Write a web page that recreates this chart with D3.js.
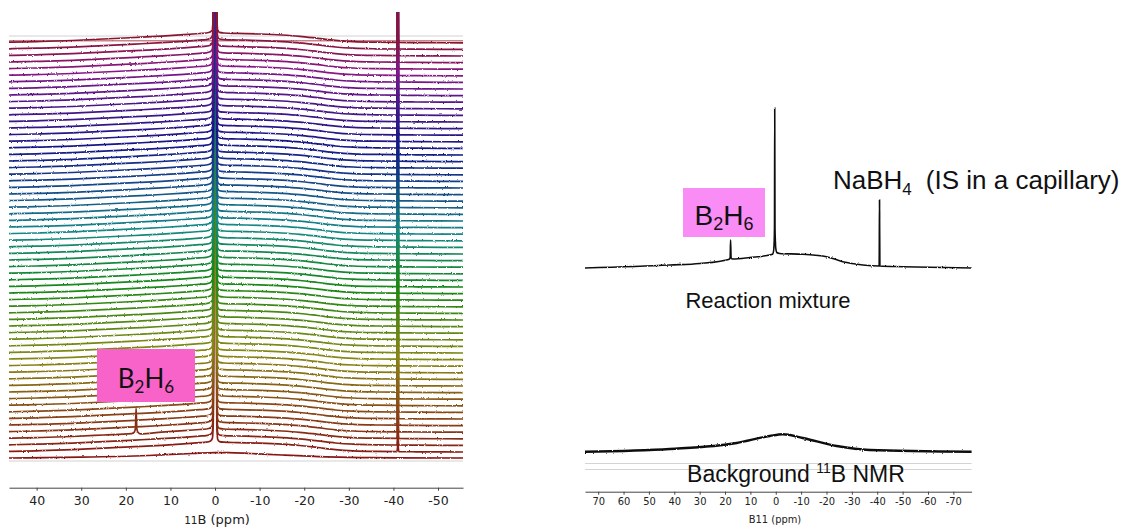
<!DOCTYPE html>
<html>
<head>
<meta charset="utf-8">
<script src="https://cdn.jsdelivr.net/npm/d3@7"></script>
<style>
  html, body { margin: 0; padding: 0; background: #fff; }
  svg { display: block; }
</style>
</head>
<body>
<svg id="chart" width="1123" height="529"></svg>
<script>
// ---------- stacked 11B spectra recorded over time ----------
const stackCount = 64;                 // spectra in the stack (first = bottom)
// broad glass/probe background shared by the stacked spectra (ppm, intensity)
const stackPpm  = [46.2, 40, 32, 25, 18, 12, 7, 3.5, -5, -10, -15, -19, -23, -27, -31, -36, -45, -55.6];
const stackBase = [0, 0.6, 1.7, 3.2, 4.7, 6.1, 7.5, 8.7, 8.8, 8.2, 7.2, 5.9, 3.9, 1.8, 0.6, 0, -0.4, -0.6];
// first spectrum: background only, no sharp lines
const firstPpm  = [46.2, 30, 15, 5, 0, -3, -8, -15, -25, -35, -55.6];
const firstBase = [0, 0.8, 2.5, 4.5, 5.3, 5.3, 4.5, 3.0, 1.2, 0.3, 0];
// sharp line near 0 ppm
const mainLinePpm = [2, 1, 0.6, 0.4, 0.3, -0.3, -0.4, -0.6, -1, -2];
const mainLineVal = [9.2, 10.5, 13, 30, 700, 700, 28, 12, 9.8, 9.2];
// NaBH4 internal standard (capillary)
const naLinePpm = [-40.75, -40.92, -41, -41.08, -41.25];
const naLineVal = [-0.2, 4, 700, 4, -0.2];
// B2H6 signal, seen in one early spectrum
const b2h6Trace = 3;
const b2h6Ppm = [18.7, 18.1, 17.85, 17.7, 17.55, 17.3, 16.7];
const b2h6Val = [4.6, 6, 10, 30, 10, 6, 4.4];
// trace colours: hue along the stack
const hueIdx = [0, 9, 13, 18, 24, 30, 34, 39, 44, 48, 53, 57, 60, 63];
const hueDeg = [0, 35, 52, 75, 110, 150, 180, 205, 228, 245, 268, 290, 318, 345];
const leftTicks = [40, 30, 20, 10, 0, -10, -20, -30, -40, -50];

// ---------- single spectra: reaction mixture and background ----------
const rxnPpm = [75.2, 41.7, 29.9, 18.6, 18.0, 17.8, 17.6, 17.0, 10.2, 2.4, 1.2, 0.8, 0.5, 0.4, 0.3, 0, -0.4, -1.5,
                -10.6, -20, -26.4, -34.3, -40.75, -40.9, -41.05, -50, -77.2];
const rxnVal = [0, 3, 4.5, 8.6, 10, 28, 10, 9, 10.5, 13, 14, 18, 40, 160, 40, 20, 15.5, 14.5,
                13.7, 11.3, 6.3, 3, 2, 68, 2, 1.3, 0];
const bgPpm = [75.2, 41.7, 15.4, 2.4, -2.8, -10.6, -24, -37, -77.2];
const bgVal = [0, 2.7, 8.7, 15.7, 17.4, 13.7, 5.7, 1.7, 0];
const rightTicks = [70, 60, 50, 40, 30, 20, 10, 0, -10, -20, -30, -40, -50, -60, -70];

const zip = (a, b) => a.map((v, i) => [v, b[i]]);

const svg = d3.select('#chart');
const defs = svg.append('defs');

// vertical-only jitter so the traces read as noisy acquisitions
const grain = defs.append('filter').attr('id', 'grain')
  .attr('x', '-1%').attr('y', '-10%').attr('width', '102%').attr('height', '120%');
grain.append('feTurbulence').attr('type', 'fractalNoise').attr('baseFrequency', '0.8 0.6')
  .attr('numOctaves', 2).attr('seed', 4).attr('result', 'n');
grain.append('feColorMatrix').attr('in', 'n').attr('type', 'matrix')
  .attr('values', '0 0 0 0 0.5  0 1 0 0 0  0 0 1 0 0  0 0 0 0 1').attr('result', 'm');
grain.append('feDisplacementMap').attr('in', 'SourceGraphic').attr('in2', 'm')
  .attr('scale', 2.3).attr('xChannelSelector', 'R').attr('yChannelSelector', 'G');

defs.append('clipPath').attr('id', 'leftClip').append('rect')
  .attr('x', 9).attr('y', 12).attr('width', 454).attr('height', 460);

// ================= left: stacked plot =================
const xL = d3.scaleLinear().domain([46.2, -55.6]).range([9, 463]);
const yL = d3.scaleLinear().domain([0, 446]).range([458, 12]);
const stackStep = 6.6;
const hue = d3.scaleLinear().domain(hueIdx).range(hueDeg);

function tracePoints(i) {
  if (i === 0) return zip(firstPpm, firstBase);
  const lines = [zip(mainLinePpm, mainLineVal), zip(naLinePpm, naLineVal)];
  if (i === b2h6Trace) lines.push(zip(b2h6Ppm, b2h6Val));
  const base = zip(stackPpm, stackBase).filter(p =>
    !lines.some(l => p[0] <= l[0][0] && p[0] >= l[l.length - 1][0]));
  return base.concat(...lines).sort((a, b) => b[0] - a[0]);
}

const leftG = svg.append('g');
// frame lines above and below the stack
leftG.append('line').attr('x1', xL(46.2)).attr('x2', xL(-55.6))
  .attr('y1', yL(422)).attr('y2', yL(422)).attr('stroke', '#d2d2d2').attr('stroke-width', 1);
leftG.append('line').attr('x1', xL(46.2)).attr('x2', xL(-55.6))
  .attr('y1', yL(-3)).attr('y2', yL(-3)).attr('stroke', '#d2d2d2').attr('stroke-width', 1.2);
leftG.append('line').attr('x1', xL(46.2)).attr('x2', xL(-55.6))
  .attr('y1', yL(417.3)).attr('y2', yL(417.3)).attr('stroke', '#c98585').attr('stroke-width', 1.4);

const traceG = leftG.append('g').attr('clip-path', 'url(#leftClip)')
  .append('g').attr('filter', 'url(#grain)');
d3.range(stackCount).forEach(i => {
  const line = d3.line()
    .x(d => xL(d[0]))
    .y(d => yL(d[1] + i * stackStep))
    .curve(d3.curveMonotoneX);
  traceG.append('path')
    .datum(tracePoints(i))
    .attr('d', line)
    .attr('fill', 'none')
    .attr('stroke', d3.hsl(hue(i), 0.72, 0.31).formatHex())
    .attr('stroke-width', 1.7);
});

// B2H6 label box
const boxL = leftG.append('g');
boxL.append('rect').attr('x', 97).attr('y', 349).attr('width', 98).attr('height', 53).attr('fill', '#f763c8');
const tL = boxL.append('text').attr('x', 146).attr('y', 388).attr('text-anchor', 'middle')
  .attr('font-family', 'Lato, "Open Sans", sans-serif').attr('font-size', 26).attr('fill', '#111');
tL.append('tspan').text('B');
tL.append('tspan').attr('font-size', 17).attr('dy', 5).text('2');
tL.append('tspan').attr('dy', -5).text('H');
tL.append('tspan').attr('font-size', 17).attr('dy', 5).text('6');

// left axis
const axL = svg.append('g').attr('transform', 'translate(0,487.7)');
axL.call(d3.axisBottom(xL).tickValues(d3.range(45, -56, -5)).tickFormat('').tickSize(3).tickSizeOuter(0));
axL.call(d3.axisBottom(xL).tickValues(leftTicks).tickFormat(d => String(d)).tickSize(3).tickPadding(5).tickSizeOuter(0));
axL.selectAll('path.domain').attr('stroke', '#444');
axL.selectAll('.tick line').attr('stroke', '#444');
axL.selectAll('text').attr('font-family', '"DejaVu Sans", Verdana, sans-serif').attr('font-size', 12.5).attr('fill', '#222');
const labL = svg.append('text').attr('x', 217).attr('y', 524).attr('text-anchor', 'middle')
  .attr('font-family', '"DejaVu Sans", Verdana, sans-serif').attr('font-size', 13).attr('fill', '#222');
labL.append('tspan').attr('font-size', 10.5).text('11');
labL.append('tspan').text('B (ppm)');

// ================= right: reaction mixture vs background =================
const xR = d3.scaleLinear().domain([75.2, -77.2]).range([585, 971.6]);
const yRxn = d3.scaleLinear().domain([0, 160]).range([268, 108]);
const yBg = d3.scaleLinear().domain([0, 17.4]).range([451.7, 434.3]);

const rightG = svg.append('g');
rightG.append('line').attr('x1', xR(75.2)).attr('x2', xR(-77.2)).attr('y1', 463.5).attr('y2', 463.5)
  .attr('stroke', '#d4d4d4').attr('stroke-width', 1);
rightG.append('line').attr('x1', xR(75.2)).attr('x2', xR(-77.2)).attr('y1', 469.5).attr('y2', 469.5)
  .attr('stroke', '#d4d4d4').attr('stroke-width', 1);

const specG = rightG.append('g').attr('filter', 'url(#grain)');
specG.append('path').datum(zip(rxnPpm, rxnVal))
  .attr('d', d3.line().x(d => xR(d[0])).y(d => yRxn(d[1])).curve(d3.curveMonotoneX))
  .attr('fill', 'none').attr('stroke', '#111').attr('stroke-width', 1.6);
specG.append('path').datum(zip(bgPpm, bgVal))
  .attr('d', d3.line().x(d => xR(d[0])).y(d => yBg(d[1])).curve(d3.curveMonotoneX))
  .attr('fill', 'none').attr('stroke', '#111').attr('stroke-width', 2.4);

// labels
const boxR = rightG.append('g');
boxR.append('rect').attr('x', 683).attr('y', 188).attr('width', 82).attr('height', 49).attr('fill', '#f98cf5');
const tR = boxR.append('text').attr('x', 724).attr('y', 225).attr('text-anchor', 'middle')
  .attr('font-family', '"Liberation Sans", Arial, sans-serif').attr('font-size', 28).attr('fill', '#111');
tR.append('tspan').text('B');
tR.append('tspan').attr('font-size', 18).attr('dy', 5).text('2');
tR.append('tspan').attr('dy', -5).text('H');
tR.append('tspan').attr('font-size', 18).attr('dy', 5).text('6');

const na = rightG.append('text').attr('x', 833).attr('y', 189)
  .attr('font-family', '"Liberation Sans", Arial, sans-serif').attr('font-size', 26).attr('fill', '#111');
na.append('tspan').text('NaBH');
na.append('tspan').attr('font-size', 17).attr('dy', 6).text('4');
na.append('tspan').attr('dy', -6).attr('dx', 14).text('(IS in a capillary)');

rightG.append('text').attr('x', 768).attr('y', 308).attr('text-anchor', 'middle')
  .attr('font-family', '"Liberation Sans", Arial, sans-serif').attr('font-size', 22).attr('fill', '#111')
  .text('Reaction mixture');

const bgT = rightG.append('text').attr('x', 796).attr('y', 482).attr('text-anchor', 'middle')
  .attr('font-family', '"Liberation Sans", Arial, sans-serif').attr('font-size', 23).attr('fill', '#111');
bgT.append('tspan').text('Background ');
bgT.append('tspan').attr('font-size', 14).attr('dy', -9).text('11');
bgT.append('tspan').attr('dy', 9).text('B NMR');

// right axis
const axR = svg.append('g').attr('transform', 'translate(0,491.7)');
axR.call(d3.axisBottom(xR).tickValues(d3.range(75, -76, -5)).tickFormat('').tickSize(3).tickSizeOuter(0));
axR.call(d3.axisBottom(xR).tickValues(rightTicks).tickFormat(d => String(d)).tickSize(3).tickPadding(3).tickSizeOuter(0));
axR.selectAll('path.domain').attr('stroke', '#444');
axR.selectAll('.tick line').attr('stroke', '#444');
axR.selectAll('text').attr('font-family', '"DejaVu Sans Condensed", "DejaVu Sans", sans-serif').attr('font-size', 11).attr('fill', '#222');
svg.append('text').attr('x', 775).attr('y', 523).attr('text-anchor', 'middle')
  .attr('font-family', '"DejaVu Sans Condensed", "DejaVu Sans", sans-serif').attr('font-size', 11).attr('fill', '#222')
  .text('B11 (ppm)');
</script>
</body>
</html>
